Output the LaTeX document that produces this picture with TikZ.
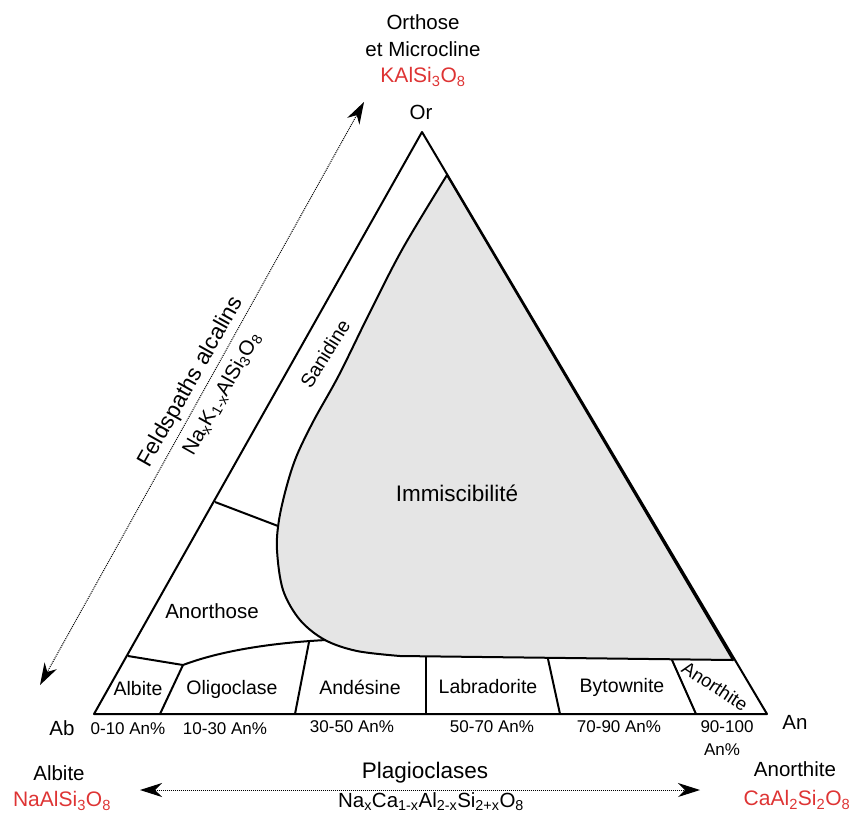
\documentclass[tikz,border=0pt]{standalone}
\usepackage{fontspec}
\setmainfont{Liberation Sans}
\usetikzlibrary{arrows.meta}

\definecolor{formred}{RGB}{222,52,52}
\definecolor{immgray}{RGB}{229,229,229}

\tikzset{
    lbl/.style={font=\fontsize{20.5}{24}\selectfont, inner sep=0pt},
    biglbl/.style={font=\fontsize{22.5}{26}\selectfont, inner sep=0pt},
    cell/.style={font=\fontsize{19.5}{23}\selectfont, inner sep=0pt},
    pct/.style={font=\fontsize{17}{20}\selectfont, inner sep=0pt},
    formula/.style={font=\fontsize{21}{24}\selectfont, inner sep=0pt, text=formred},
    border/.style={line width=2pt, line join=round},
    dotarrow/.style={line width=1pt, dash pattern=on 1pt off 1pt,
        {Stealth[length=22pt,width=14pt,inset=7pt]}-{Stealth[length=22pt,width=14pt,inset=7pt]}}
}

\begin{document}
\begin{tikzpicture}[x=1pt,y=-1pt]
    \useasboundingbox (0,0) rectangle (850,814);

    % Corners of the ternary diagram
    \coordinate (Ab) at (94,714);
    \coordinate (An) at (767,714);
    \coordinate (Or) at (422,132);

    % Immiscibility region (gray)
    \filldraw[border, fill=immgray] plot[smooth, tension=0.55] coordinates {(447,175) (403,248) (370,312) (339,375) (314,420) (297,455) (287,485) (279,520) (277,550) (283,590) (300,620) (325,640) (357,651) (400,656)} -- (733,660) -- cycle;

    % Draw the triangle
    \draw[border] (Ab) -- (An) -- (Or) -- cycle;

    % Boundaries between the plagioclases
    \coordinate (P1) at (183,665);
    \draw[border] (128,656) -- (P1) -- (160,714);
    \draw[border] (P1) .. controls (220,651) and (270,643) .. (326,640);
    \draw[border] (309,642) -- (295,714);
    \draw[border] (426,657) -- (426,714);
    \draw[border] (548,659) -- (560,714);
    \draw[border] (672,660) -- (696,714);

    % Sanidine / Anorthose boundary
    \draw[border] (215,502) -- (278,526);

    % Labels of the corners
    \node[lbl] (ortxt1) at (423,22) {Orthose};
    \node[lbl] (ortxt2) at (423,49) {et Microcline};
    \node[formula] (orform) at (423,77) {KAlSi\textsubscript{3}O\textsubscript{8}};
    \node[lbl] (or) at (421,112) {Or};
    \node[lbl] (ab) at (62,728) {Ab};
    \node[lbl] (an) at (795,722) {An};
    \node[lbl] (abtxt) at (59,773) {Albite};
    \node[formula] (abform) at (62,801) {NaAlSi\textsubscript{3}O\textsubscript{8}};
    \node[lbl] (antxt) at (795,769) {Anorthite};
    \node[formula] (anform) at (797,800) {CaAl\textsubscript{2}Si\textsubscript{2}O\textsubscript{8}};

    % Series arrows
    \coordinate (fa1) at (40,685);
    \coordinate (fa2) at (364,102);
    \draw[dotarrow] (fa1) -- (fa2);
    \node[biglbl, rotate=60.6] (fk1) at (191,382) {Feldspaths alcalins};
    \node[lbl, rotate=60.6] (fk2) at (222,394) {Na\textsubscript{x}K\textsubscript{1-x}AlSi\textsubscript{3}O\textsubscript{8}};

    \coordinate (pl1) at (140,790);
    \coordinate (pl2) at (700,790);
    \draw[dotarrow] (pl1) -- (pl2);
    \node[biglbl] (pltxt) at (425,773) {Plagioclases};
    \node[lbl] (plform) at (431,802) {Na\textsubscript{x}Ca\textsubscript{1-x}Al\textsubscript{2-x}Si\textsubscript{2+x}O\textsubscript{8}};

    % Fields
    \node[biglbl] (imm) at (457,493) {Immiscibilité};
    \node[cell, rotate=58] (san) at (325,354) {Sanidine};
    \node[lbl] (anortho) at (212,611) {Anorthose};
    \node[cell] (alb) at (138,689) {Albite};
    \node[cell] (oli) at (232,689) {Oligoclase};
    \node[cell] (and) at (360,687) {Andésine};
    \node[cell] (lab) at (488,687) {Labradorite};
    \node[cell] (byt) at (622,687) {Bytownite};
    \node[cell, font=\fontsize{18.5}{22}\selectfont, rotate=-33] (anor) at (715,686) {Anorthite};

    % Composition ranges
    \node[pct] (r1) at (128,729) {0-10 An\%};
    \node[pct] (r2) at (225,729) {10-30 An\%};
    \node[pct] (r3) at (352,727) {30-50 An\%};
    \node[pct] (r4) at (492,727) {50-70 An\%};
    \node[pct] (r5) at (619,727) {70-90 An\%};
    \node[pct] (r6) at (727,727) {90-100};
    \node[pct] (r7) at (722,750) {An\%};
\end{tikzpicture}
\end{document}
